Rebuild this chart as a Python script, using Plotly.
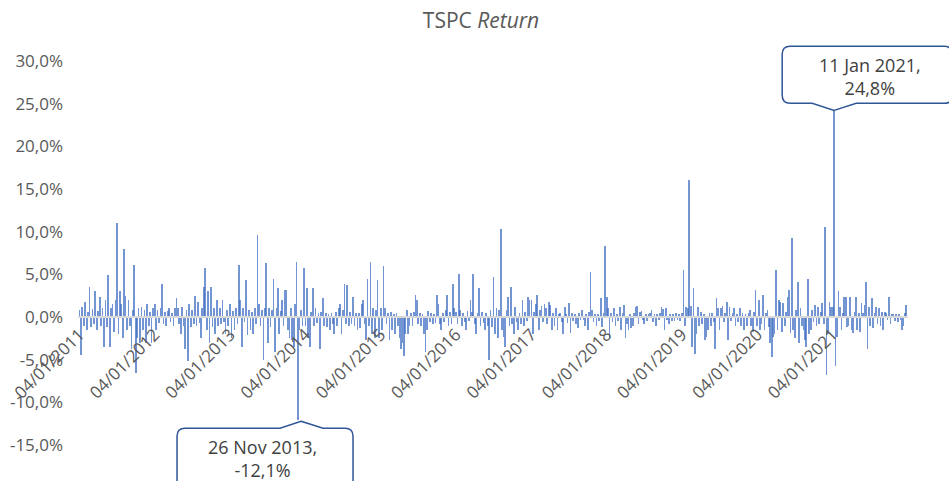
import pandas as pd
import plotly.graph_objects as go

# ---------------- data (weekly TSPC returns, %) ----------------
years = list(range(2011, 2022))

ret_2011 = [0.8, -4.5, 1.2, -1.0, 1.8, -1.5, 0.6, 3.5, -1.2, 0.9, -0.8, 3.0, -1.5,
            0.7, 2.4, -1.0, 1.0, -3.5, 2.0, -1.2, 4.9, -3.5, 1.0, 1.5, -1.8, 2.0,
            11.0, -2.0, 3.0, 1.5, -2.5, 8.0, 2.5, -1.5, 2.0, -1.0, -3.7, 0.8, 6.1,
            -6.6, -2.5, 1.0, -3.0, 1.2, -1.5, 0.8, -3.0, 1.5, -1.0, 0.6, -3.0, 1.0]
ret_2012 = [1.5, -1.5, 0.8, -0.7, 1.0, 3.9, -0.8, 0.6, -1.1, 0.7, 1.0, -0.6, 0.5,
            -1.0, 1.0, 2.2, 1.0, -0.8, -2.0, 1.2, -1.0, -3.7, 0.8, -5.2, 1.5, -1.2,
            0.8, -0.8, 2.5, -1.0, 1.8, -0.7, -2.5, 1.0, 3.5, 5.8, -1.5, 3.0, -3.0,
            3.5, -1.2, 1.0, -2.0, 2.0, -1.0, 1.0, -0.8, 2.0, -0.6, -2.0, 0.8, -1.0]
ret_2013 = [1.5, -2.5, 0.7, -1.5, 1.0, -0.8, 6.1, 2.0, -3.5, 1.0, -0.6, 4.3, -2.1,
            0.8, -1.5, 0.6, -2.0, 1.0, -0.8, 9.6, 1.5, -1.0, 0.8, -5.0, 1.0, 6.3,
            -3.0, 1.0, -1.2, 0.8, 4.5, -4.1, 1.0, 3.4, -2.0, 0.7, 2.0, -1.0, 3.2,
            3.2, -1.5, -2.5, 1.0, -2.7, -3.5, 1.5, 6.4, -12.1, -1.5, 0.8, -1.0, 5.7]
ret_2014 = [-1.0, 3.4, -2.5, -3.5, 0.6, 3.4, -1.0, 1.0, -0.7, 0.5, -3.7, 0.6, 2.2,
            -1.0, 0.5, -1.2, 0.4, -1.5, 0.5, -0.8, -2.0, 0.6, -1.0, 1.0, 1.5, -2.0,
            0.8, 3.9, -0.8, 3.7, -1.0, 0.6, -0.8, 2.4, -1.0, 0.5, -1.5, 0.5, -1.3,
            1.5, 2.0, -0.8, -2.7, 4.5, -1.0, 6.5, -2.0, 1.0, -2.5, 0.8, 4.3, -2.5]
ret_2015 = [1.0, -1.5, 6.0, 1.0, -0.8, 0.5, -2.7, 0.6, -1.5, 0.4, -2.0, 0.5, -1.0,
            -2.5, -3.7, -3.0, -4.6, -2.0, 0.8, -2.0, -1.0, 0.5, -1.0, 0.6, 2.6, 2.0,
            -0.8, 0.5, -1.0, 0.4, -2.0, -4.1, -1.5, 0.7, -0.6, 0.5, -0.8, 0.4, -0.7,
            2.6, 1.5, -0.8, -1.5, 0.5, -0.6, 0.8, 2.6, -1.0, 0.6, -0.8, 3.9, 1.0]
ret_2016 = [0.6, -0.8, 5.0, 0.8, -1.0, 0.5, -0.6, -1.5, 0.7, -0.5, 2.0, 0.6, 5.0,
            -0.8, -2.0, 0.5, 3.4, -1.0, 0.6, -0.7, -1.5, 0.5, -1.0, -5.0, 0.8, -1.2,
            4.7, -2.0, 1.0, -2.5, 0.8, 10.3, -1.5, -2.3, -3.5, 0.8, 2.4, -1.0, 3.5,
            -0.8, -2.0, 1.2, -0.6, -1.5, 0.5, -0.8, 2.0, -1.0, 0.6, -0.5, 2.4, 2.0]
ret_2017 = [2.0, -2.0, 0.6, 1.5, 2.6, -1.5, 0.8, 1.3, -0.6, 1.5, 1.0, -0.8, 1.8,
            1.4, -1.5, 0.5, -1.0, 1.0, -1.5, 0.4, 0.5, -0.6, -2.0, 1.2, 0.4, -0.7,
            1.6, -1.9, 0.5, -0.5, 0.4, -0.8, -1.3, 0.5, -0.4, 0.8, -0.3, -1.0, 0.4,
            -1.5, 0.6, 5.3, 0.8, -0.6, 0.3, -1.0, 0.4, -0.5, 2.2, -1.2, 0.5, 8.3]
ret_2018 = [2.4, 1.0, -2.5, 0.5, -0.6, 1.0, -1.0, 0.4, -0.5, 1.2, -1.5, 0.5, 1.4,
            -2.5, -0.8, -1.5, 0.4, -1.3, -1.0, 0.5, 1.2, 1.3, -0.8, 0.6, 0.7, -0.4,
            -0.8, 0.3, -0.5, 0.4, 0.5, 0.8, -0.6, 0.3, -1.0, 0.4, -0.3, 0.5, 1.2,
            0.9, -1.5, 1.0, -0.4, -0.8, 0.3, -0.5, 0.3, -0.5, 0.5, -0.4, 0.3, -0.5]
ret_2019 = [0.5, 5.5, -1.0, 1.2, 1.0, 16.0, 1.3, -3.5, 3.4, -4.3, -2.0, 1.2, -1.0,
            0.6, -0.8, 0.4, -2.7, -2.3, -1.5, 0.5, -1.0, 0.5, -0.6, -3.7, 2.2, 1.0,
            -1.5, 1.0, 1.3, -0.6, 0.5, 1.8, -2.7, 1.2, -0.5, 0.5, 1.0, -1.0, 0.4,
            -0.6, 1.0, -1.0, 0.5, -1.5, 0.4, -1.1, 0.5, 0.8, -1.0, -1.7, 0.6, 3.2]
ret_2020 = [-1.0, 2.0, -1.5, -0.8, 2.6, -1.5, 0.5, 0.8, -1.2, -3.1, -4.7, -2.3, -2.0,
            5.5, -1.5, 2.0, 1.8, -1.8, 1.6, -1.0, 0.6, 2.4, 3.2, -1.9, 9.2, -1.5,
            -2.5, 0.8, 4.1, -3.1, 1.0, -1.0, -1.5, -2.7, -3.5, 4.5, -2.0, -1.5, 0.8,
            -0.6, 1.4, -1.0, 1.2, -0.8, 0.6, 1.6, -0.8, 10.6, -6.8, -2.0, 1.8, 1.2]
ret_2021 = [1.2, 24.8, -5.8, -2.3, 3.0, 1.2, -1.5, 0.5, 2.4, 2.4, -1.2, -1.0, 2.4,
            -1.5, -1.9, 0.6, 2.4, -1.5, 0.5, -1.8, 1.6, 0.5, 1.4, 4.1, -3.7, 1.2,
            -1.0, 2.2, -1.3, 0.5, 1.2, -0.8, 1.0, -1.0, 0.6, -1.5, 0.6, 0.5, -0.4,
            2.4, -0.8, 0.4, 0.3, -0.5, 0.3, -0.6, 0.4, -0.3, -1.5, -1.0, 0.5, 1.4]

yearly = [ret_2011, ret_2012, ret_2013, ret_2014, ret_2015, ret_2016,
          ret_2017, ret_2018, ret_2019, ret_2020, ret_2021]

tick_dates = [f"{y}-01-04" for y in years]          # x tick labels 04/01/YYYY
y_ticks = [-15, -10, -5, 0, 5, 10, 15, 20, 25, 30]

callout_dates = ["2013-11-29", "2021-01-11"]
callout_values = [-12.1, 24.8]
callout_labels = ["26 Nov 2013", "11 Jan 2021"]

# ---------------- build series ----------------
dates, values = [], []
for y, vals in zip(years, yearly):
    d = pd.date_range(f"{y}-01-04", periods=len(vals), freq="7D")
    dates += list(d)
    values += vals

X0, X1 = pd.Timestamp("2010-12-28"), pd.Timestamp("2022-01-04")
Y0, Y1 = -15, 30

BLUE = "#4472C4"
GREY = "#595959"
FONT = "Open Sans"

fig = go.Figure()
fig.add_trace(go.Bar(
    x=dates, y=values,
    width=3.5 * 86400000,
    marker=dict(color=BLUE, line=dict(width=0), opacity=0.75),
    hoverinfo="x+y",
))

def fmt_pct(v):
    return f"{v:.1f}".replace(".", ",") + "%"

fig.update_layout(
    width=949, height=481,
    margin=dict(l=78, r=41, t=61, b=36),
    plot_bgcolor="white", paper_bgcolor="white",
    showlegend=False, bargap=0,
    title=dict(text="TSPC <i>Return</i>", x=481 / 949, xanchor="center",
               y=1 - 21 / 481, yanchor="middle", yref="container",
               font=dict(family=FONT, size=21, color=GREY)),
    xaxis=dict(type="date", range=[X0, X1],
               tickvals=tick_dates, tickformat="%d/%m/%Y", tickangle=-45,
               showgrid=False, zeroline=False,
               showline=True, linecolor="#D9D9D9", linewidth=2,
               anchor="free", position=(0 - Y0) / (Y1 - Y0),
               ticks="", automargin=False,
               tickfont=dict(family=FONT, size=17, color=GREY)),
    yaxis=dict(range=[Y0, Y1], tickvals=y_ticks,
               ticktext=[fmt_pct(v) for v in y_ticks],
               showgrid=False, zeroline=False, showline=False,
               ticks="", ticklabelstandoff=14, automargin=False,
               tickfont=dict(family=FONT, size=17, color=GREY)),
)

# ---------------- callouts ----------------
def paper_anchor(d, v):
    xa = (pd.Timestamp(d) - X0) / (X1 - X0)
    ya = (v - Y0) / (Y1 - Y0)
    return xa, ya

def box_path(left, right, bottom, top, tip, n0, n1, side, r=8):
    tx, ty = tip
    if side == "bottom":   # pointer below box
        return (f"M{tx},{ty} L{n1},{bottom} L{right - r},{bottom} Q{right},{bottom} {right},{bottom + r} "
                f"L{right},{top - r} Q{right},{top} {right - r},{top} L{left + r},{top} "
                f"Q{left},{top} {left},{top - r} L{left},{bottom + r} Q{left},{bottom} {left + r},{bottom} "
                f"L{n0},{bottom} Z")
    else:                  # pointer above box
        return (f"M{tx},{ty} L{n1},{top} L{right - r},{top} Q{right},{top} {right},{top - r} "
                f"L{right},{bottom + r} Q{right},{bottom} {right - r},{bottom} L{left + r},{bottom} "
                f"Q{left},{bottom} {left},{bottom + r} L{left},{top - r} Q{left},{top} {left + r},{top} "
                f"L{n0},{top} Z")

geoms = [
    # bottom callout (negative spike): box below, pointer up
    dict(path=box_path(-121, 55, -80, -8, (3, -1), -18, 25, "top"), shift=(-36, -38)),
    # top callout (positive spike): box above, pointer down
    dict(path=box_path(-52, 118, 2, 59, (0, -5), -22, 22, "bottom"), shift=(36, 29)),
]

for d, v, lab, g in zip(callout_dates, callout_values, callout_labels, geoms):
    xa, ya = paper_anchor(d, v)
    fig.add_shape(type="path", xref="paper", yref="paper",
                  xsizemode="pixel", ysizemode="pixel",
                  xanchor=xa, yanchor=ya, path=g["path"],
                  line=dict(color="#2F5597", width=1.5),
                  fillcolor="white", layer="above")
    fig.add_annotation(x=xa, y=ya, xref="paper", yref="paper",
                       xshift=g["shift"][0], yshift=g["shift"][1],
                       text=f"{lab},<br>{fmt_pct(v)}", showarrow=False,
                       xanchor="center", yanchor="middle", align="center",
                       font=dict(family=FONT, size=18, color="#404040"))

fig.write_html("out.html", config={"displayModeBar": False},
               post_script="document.body.style.margin='0';")
